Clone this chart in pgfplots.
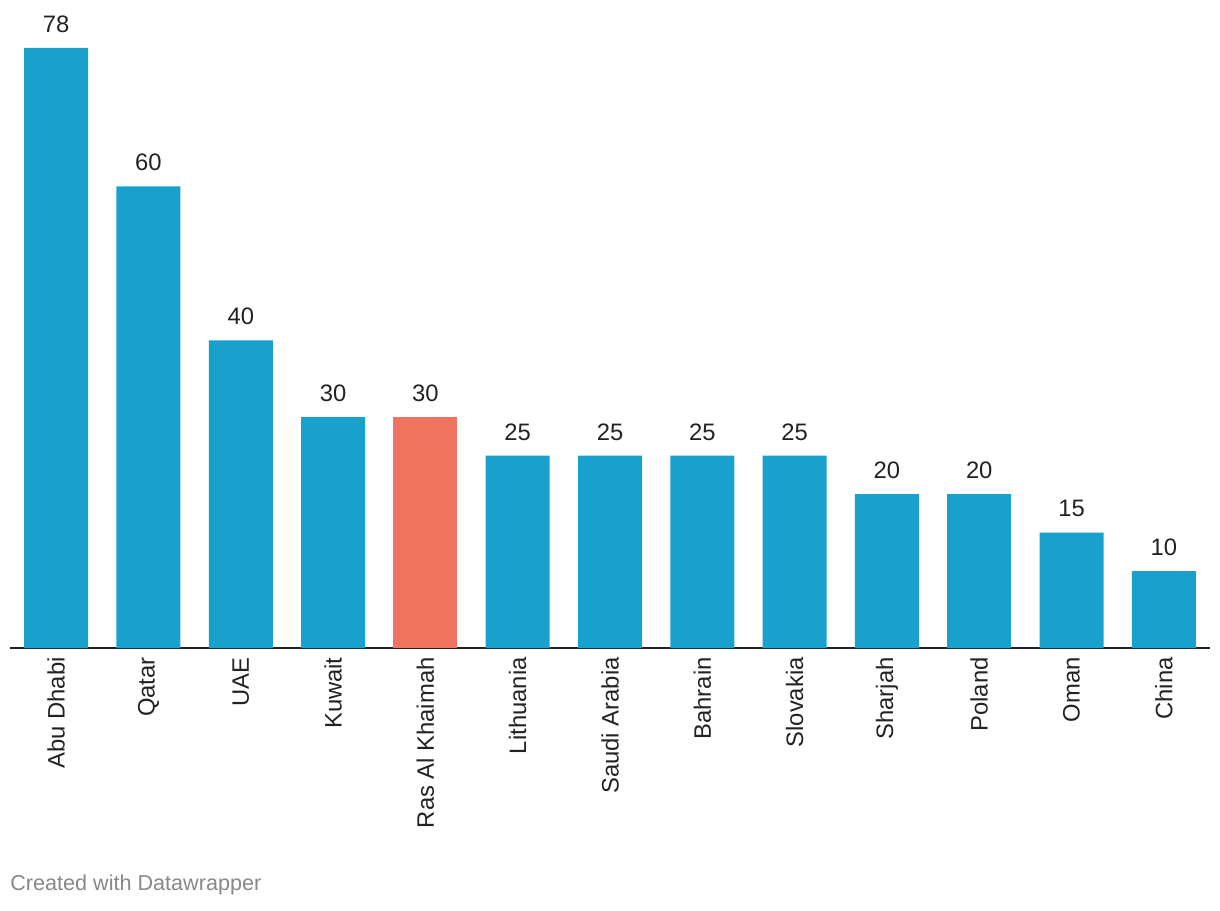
\documentclass[border=0pt]{standalone}
\usepackage{pgfplots}
\pgfplotsset{compat=1.18}
\usepackage{fontspec}
\setmainfont{Liberation Sans}
\definecolor{dwblue}{HTML}{18A1CD}
\definecolor{dwred}{HTML}{EF745F}
\definecolor{txt}{HTML}{222222}
\definecolor{credit}{HTML}{888888}
\begin{document}
\begin{tikzpicture}
\path[use as bounding box] (0pt,0pt) rectangle (610pt,455pt);
\begin{axis}[
  at={(5pt,131pt)}, anchor=south west,
  scale only axis, width=600pt, height=307.7pt,
  xmin=-0.5, xmax=12.5, ymin=0, ymax=80,
  ybar, bar width=32pt, bar shift=0pt,
  axis x line*=bottom, axis y line=none,
  x axis line style={draw=txt, line width=1pt, -},
  xtick={0,...,12},
  xticklabels={Abu Dhabi,Qatar,UAE,Kuwait,Ras Al Khaimah,Lithuania,Saudi Arabia,Bahrain,Slovakia,Sharjah,Poland,Oman,China},
  major tick length=0pt, xtick style={draw=none},
  xticklabel style={rotate=90, anchor=east, inner sep=0pt, xshift=-4.5pt, font=\fontsize{11.9}{14}\selectfont, text=txt},
  ytick=\empty,
  /pgf/number format/assume math mode=true,
  nodes near coords,
  every node near coord/.append style={font=\fontsize{11.9}{14}\selectfont, text=txt, inner sep=0pt, anchor=south, yshift=7.5pt},
  clip=false,
]
\addplot[fill=dwblue, draw=none] coordinates {(0,78) (1,60) (2,40) (3,30) (5,25) (6,25) (7,25) (8,25) (9,20) (10,20) (11,15) (12,10)};
\addplot[fill=dwred, draw=none] coordinates {(4,30)};
\end{axis}
\node[anchor=west, inner sep=0pt, text=credit, font=\fontsize{10.8}{13}\selectfont] at (5pt,12.5pt) {Created with Datawrapper};
\end{tikzpicture}
\end{document}
